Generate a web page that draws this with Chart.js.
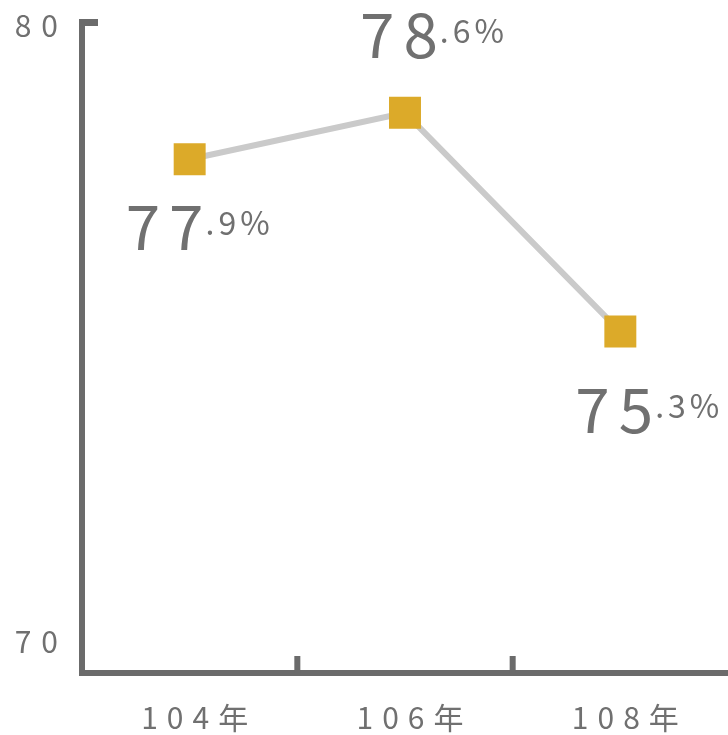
<!DOCTYPE html>
<html>
<head>
<meta charset="utf-8">
<script src="https://cdn.jsdelivr.net/npm/chart.js@4"></script>
<style>
  html, body { margin: 0; padding: 0; background: #ffffff; }
  #c { display: block; }
</style>
</head>
<body>
<canvas id="c" width="728" height="735"></canvas>
<script>
// ---- data ----
const categories = ['104年', '106年', '108年'];
const values = [77.9, 78.6, 75.3];
const yTickValues = [80, 70];
const yTickLabels = ['80', '70'];

// ---- layout / style (not data) ----
const FONT = '"Noto Sans CJK TC", "Noto Sans", sans-serif';
const TEXT_COLOR = '#707070';
const AXIS_COLOR = '#6b6b6b';
const LINE_COLOR = '#cacaca';
const MARKER_COLOR = '#dcaa29';
// label anchor offsets relative to each point: left edge of big digits, baseline
const labelOffsets = [
  { dx: -64, dy: 91 },
  { dx: -45, dy: -55 },
  { dx: -45, dy: 101 }
];

function drawSpaced(ctx, text, x, y, spacing) {
  let cx = x;
  for (const ch of text) {
    ctx.fillText(ch, cx, y);
    cx += ctx.measureText(ch).width + spacing;
  }
  return cx - spacing;
}
function spacedWidth(ctx, text, spacing) {
  let w = 0;
  for (const ch of text) w += ctx.measureText(ch).width + spacing;
  return w - spacing;
}

const decorPlugin = {
  id: 'decor',
  beforeDatasetsDraw(chart) {
    const ctx = chart.ctx;
    const { left, right, top, bottom } = chart.chartArea;
    const x = chart.scales.x, y = chart.scales.y;
    const yTop = y.getPixelForValue(80);
    ctx.save();
    ctx.fillStyle = AXIS_COLOR;
    // left axis
    ctx.fillRect(left - 3, yTop - 1, 6, bottom + 3 - (yTop - 1));
    // cap tick at top value
    ctx.fillRect(left - 3, yTop - 1, 19, 7);
    // bottom axis
    ctx.fillRect(left - 3, bottom - 3, chart.width - (left - 3), 6);
    // category boundary ticks
    for (let i = 1; i < categories.length; i++) {
      const bx = (x.getPixelForValue(i - 1) + x.getPixelForValue(i)) / 2;
      ctx.fillRect(bx - 3, bottom - 17, 6, 17);
    }
    // x labels
    ctx.fillStyle = TEXT_COLOR;
    ctx.font = '30px ' + FONT;
    ctx.textBaseline = 'alphabetic';
    ctx.textAlign = 'left';
    categories.forEach((c, i) => {
      const cx = x.getPixelForValue(i) + 5;
      const w = spacedWidth(ctx, c, 9);
      drawSpaced(ctx, c, cx - w / 2, bottom + 56, 9);
    });
    // y labels
    yTickLabels.forEach((t, i) => {
      const v = yTickValues[i];
      const w = spacedWidth(ctx, t, 10);
      let base;
      if (v === 80) base = y.getPixelForValue(v) + 17;
      else base = bottom - 20;
      drawSpaced(ctx, t, left - 24 - w, base, 10);
    });
    ctx.restore();
  },
  afterDatasetsDraw(chart) {
    const ctx = chart.ctx;
    const meta = chart.getDatasetMeta(0);
    ctx.save();
    ctx.fillStyle = TEXT_COLOR;
    ctx.textBaseline = 'alphabetic';
    ctx.textAlign = 'left';
    values.forEach((v, i) => {
      const pt = meta.data[i];
      const s = v.toFixed(1);
      const big = s.split('.')[0];
      const small = '.' + s.split('.')[1] + '%';
      const off = labelOffsets[i];
      const lx = pt.x + off.dx, ly = pt.y + off.dy;
      ctx.font = '62px ' + FONT;
      const endX = drawSpaced(ctx, big, lx, ly, 9);
      ctx.font = '32px ' + FONT;
      drawSpaced(ctx, small, endX + 2, ly - 15, 4);
    });
    ctx.restore();
  }
};

new Chart(document.getElementById('c'), {
  type: 'line',
  data: {
    labels: categories,
    datasets: [{
      data: values,
      borderColor: LINE_COLOR,
      borderWidth: 6,
      pointStyle: 'rect',
      pointRadius: 22.6,
      pointHoverRadius: 22.6,
      pointBackgroundColor: MARKER_COLOR,
      pointBorderWidth: 0,
      pointBorderColor: MARKER_COLOR,
      tension: 0,
      clip: false
    }]
  },
  options: {
    responsive: false,
    animation: false,
    events: [],
    layout: { autoPadding: false, padding: { left: 82, right: -4, top: 20, bottom: 62 } },
    plugins: { legend: { display: false }, tooltip: { enabled: false } },
    scales: {
      x: { display: false, offset: true },
      y: { display: false, min: 70.15, max: 80 }
    }
  },
  plugins: [decorPlugin]
});
</script>
</body>
</html>
